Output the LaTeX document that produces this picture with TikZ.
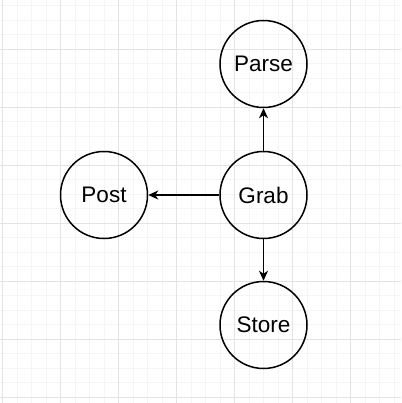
\documentclass[tikz,border=0pt]{standalone}
\usepackage{fontspec}
\setmainfont{Liberation Sans}
\usetikzlibrary{arrows.meta}
\begin{document}
\begin{tikzpicture}[x=1pt,y=-1pt,
  state/.style={draw=black,line width=1.5pt,circle,minimum size=87pt,inner sep=0pt,font=\fontsize{22.5}{25}\selectfont},
  conn/.style={draw=black,line width=1.5pt,-{Stealth[length=10pt,width=9pt,inset=3pt]}},
  minorgrid/.style={draw=black!4,line width=0.8pt},
  majorgrid/.style={draw=black!11,line width=0.8pt}]
\useasboundingbox (0,0) rectangle (401,403);
\fill[white] (0,0) rectangle (401,403);
% minor grid
\foreach \i in {0,...,28} {
  \draw[minorgrid] ({2.7+14.5*\i},0) -- ({2.7+14.5*\i},403);
}
\foreach \i in {-3,...,27} {
  \draw[minorgrid] (0,{49+14.5*\i}) -- (401,{49+14.5*\i});
}
% major grid
\foreach \i in {0,...,6} {
  \draw[majorgrid] ({2.7+58*\i},0) -- ({2.7+58*\i},403);
}
\foreach \i in {0,...,6} {
  \draw[majorgrid] (0,{49+58*\i}) -- (401,{49+58*\i});
}
\node[state] (grab) at (263.5,195) {Grab};
\node[state] (parse) at (263.5,64) {Parse};
\node[state] (post) at (104,195) {Post};
\node[state] (store) at (263.5,325) {Store};
\draw[conn] (grab) -- (parse);
\draw[conn] (grab) -- (post);
\draw[conn] (grab) -- (store);
\end{tikzpicture}
\end{document}
